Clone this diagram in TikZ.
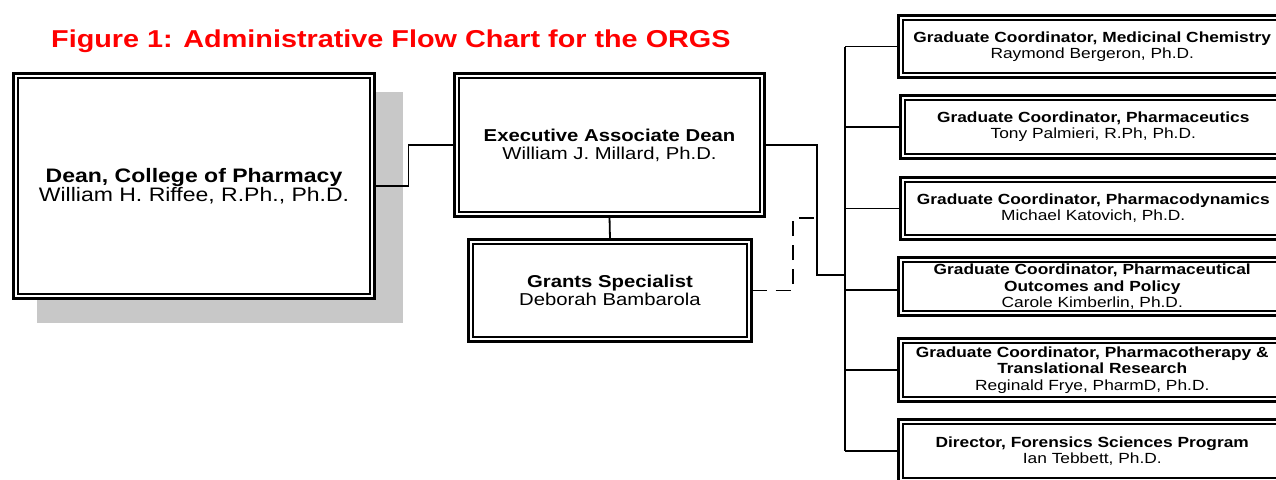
\documentclass[tikz,border=0pt]{standalone}
\usepackage{fontspec}
\setmainfont{Liberation Sans}[FakeStretch=1.18]
\definecolor{titlered}{RGB}{255,0,0}
\definecolor{shadowgray}{RGB}{200,200,200}
\tikzset{
  box/.style={draw, line width=3pt, fill=white, inner sep=0pt, outer sep=0pt, align=center},
  deanfont/.style={font=\fontsize{19.5}{18.5}\selectfont},
  midfont/.style={font=\fontsize{17.2}{17.8}\selectfont},
  smallfont/.style={font=\fontsize{14.7}{16}\selectfont},
  threefont/.style={font=\fontsize{14.7}{16.5}\selectfont},
  conn/.style={line width=1.8pt},
  dashconn/.style={line width=1.8pt, dash pattern=on 15pt off 9pt},
  innerline/.style={line width=1.6pt}
}
\begin{document}
\begin{tikzpicture}[x=1pt,y=-1pt]
\useasboundingbox (0,0) rectangle (1276,479);
\clip (0,0) rectangle (1276,479);

% title
\node[anchor=base west, text=titlered, font=\bfseries\fontsize{24.4}{28}\selectfont, inner sep=0pt] (title) at (51,47.5) {Figure 1: Administrative Flow Chart for the ORGS};

% shadow of dean box
\fill[shadowgray] (37,92) rectangle (403,323);

% boxes
\node[box, deanfont, minimum width=361pt, minimum height=225pt] (dean) at (194,186)
  {\textbf{Dean, College of Pharmacy}\\William H. Riffee, R.Ph., Ph.D.};
\node[box, midfont, minimum width=310pt, minimum height=143pt] (exec) at (609.5,145)
  {\textbf{Executive Associate Dean}\\William J. Millard, Ph.D.};
\node[box, midfont, minimum width=283pt, minimum height=102pt] (grants) at (610,290.5)
  {\textbf{Grants Specialist}\\Deborah Bambarola};

\node[box, smallfont, minimum width=387.5pt, minimum height=62pt] (r1) at (1092.25,46.5)
  {\textbf{Graduate Coordinator, Medicinal Chemistry}\\Raymond Bergeron, Ph.D.};
\node[box, smallfont, minimum width=385.5pt, minimum height=63pt] (r2) at (1093.25,127)
  {\textbf{Graduate Coordinator, Pharmaceutics}\\Tony Palmieri, R.Ph, Ph.D.};
\node[box, smallfont, minimum width=385.5pt, minimum height=62pt] (r3) at (1093.25,208.5)
  {\textbf{Graduate Coordinator, Pharmacodynamics}\\Michael Katovich, Ph.D.};
\node[box, minimum width=387.5pt, minimum height=58pt] (r4) at (1092.25,286.5) {};
\node[box, threefont, minimum width=387.5pt, minimum height=63pt] (r5) at (1092.25,370)
  {\textbf{Graduate Coordinator, Pharmacotherapy \&}\\\textbf{Translational Research}\\Reginald Frye, PharmD, Ph.D.};
\node[box, smallfont, minimum width=387.5pt, minimum height=63pt] (r6) at (1092.25,451)
  {\textbf{Director, Forensics Sciences Program}\\Ian Tebbett, Ph.D.};

% inner lines of the double borders
\foreach \n in {dean,exec,grants,r1,r2,r3,r4,r5,r6}
  \draw[innerline] ([xshift=4.3pt,yshift=-4.3pt]\n.north west) rectangle ([xshift=-4.3pt,yshift=4.3pt]\n.south east);

\node[threefont, align=center, inner sep=0pt] (r4text) at (1092.25,287)
  {\textbf{Graduate Coordinator, Pharmaceutical}\\\textbf{Outcomes and Policy}\\Carole Kimberlin, Ph.D.};

% connectors
\coordinate (btop) at (845,46.5);
\coordinate (bbot) at (845,451);
\coordinate (join) at (845,275);
\coordinate (dashend) at (817,218);

\draw[conn] (dean.east) -- ++(34,0) |- (exec.west);
\draw[conn] (exec.south) -- (grants.north);
\draw[conn] (exec.east) -- ++(52.5,0) |- (join);
\draw[dashconn] (grants.east) -- ++(41.5,0) |- (dashend);
\draw[conn] (btop) -- (bbot);
\foreach \n in {r1,r2,r3,r5,r6}
  \draw[conn] (\n.west) -- (\n.west -| btop);
\draw[conn] ([yshift=-3.5pt]r4.west) -- ([yshift=-3.5pt]r4.west -| btop);
\end{tikzpicture}
\end{document}
